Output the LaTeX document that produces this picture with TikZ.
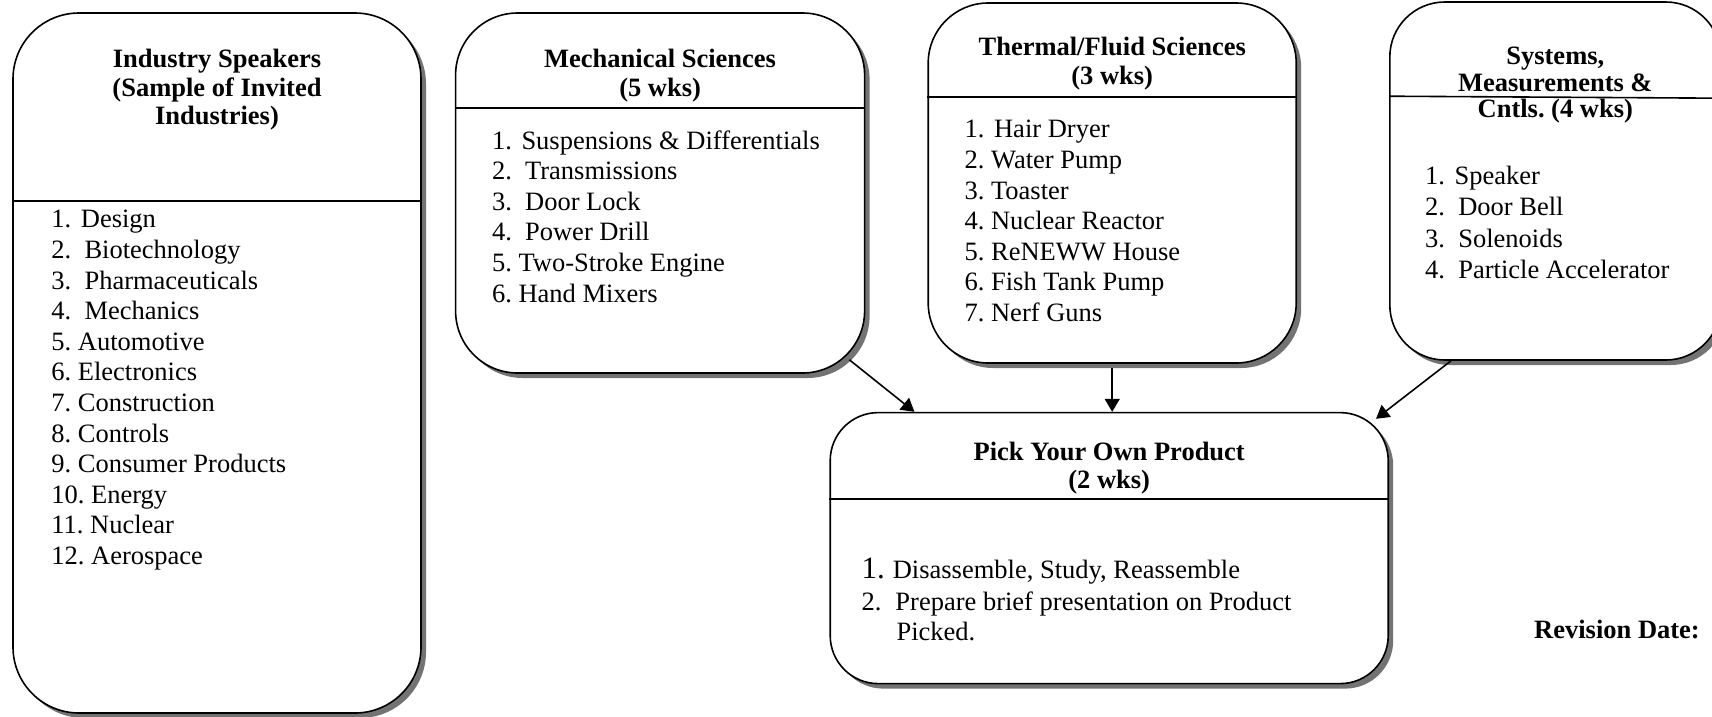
\documentclass[tikz,border=0pt]{standalone}
\usepackage{fontspec}
\setmainfont{Liberation Serif}
\usetikzlibrary{arrows.meta, positioning, shadows, calc}
\frenchspacing
\tikzset{
  panel/.style={rectangle, draw, line width=1.6pt, fill=white, inner sep=0pt,
    drop shadow={shadow xshift=5pt, shadow yshift=-5pt, fill=black!55, opacity=1}},
  head/.style={anchor=north, align=center, inner sep=0pt,
    font=\bfseries\fontsize{26.5}{28.5}\selectfont},
  items/.style={anchor=north west, align=left, inner sep=0pt,
    font=\fontsize{26.5}{30.6}\selectfont},
  divider/.style={line width=1.6pt},
  arr/.style={-{Triangle[length=13pt, width=15pt]}, line width=1.6pt},
}

\begin{document}
\begin{tikzpicture}[x=1pt, y=-1pt]
  \useasboundingbox (0,0) rectangle (1712,716);
  \clip (0,0) rectangle (1712,716);

  % Industry speakers
  \node[panel, rounded corners=66pt, minimum width=408pt, minimum height=700pt] (ind) at (217,363) {};
  \node[head] (indh) at ($(ind.north)+(0,37)$) {Industry Speakers\\(Sample of Invited\\Industries)};
  \draw[divider] ($(ind.north west)+(0,189)$) -- ($(ind.north east)+(0,189)$);
  \node[items] (indl) at ($(ind.north west)+(39,198)$) {1.\kern3pt{} Design\\2.~ Biotechnology\\3.~ Pharmaceuticals\\4.~ Mechanics\\5. Automotive\\6. Electronics\\7. Construction\\8. Controls\\9. Consumer Products\\10. Energy\\11. Nuclear\\12. Aerospace};

  % Mechanical sciences
  \node[panel, rounded corners=62pt, minimum width=409pt, minimum height=360pt,
    right=33pt of ind.north east, anchor=north west] (mech) {};
  \node[head] (mechh) at ($(mech.north)+(0,37)$) {Mechanical Sciences\\(5 wks)};
  \draw[divider] ($(mech.north west)+(0,96)$) -- ($(mech.north east)+(0,96)$);
  \node[items] (mechl) at ($(mech.north west)+(37,118)$) {1.\kern3pt{} Suspensions \& Differentials\\2.~ Transmissions\\3.~ Door Lock\\4.~ Power Drill\\5. Two-Stroke Engine\\6. Hand Mixers};

  % Thermal/fluid sciences
  \node[panel, rounded corners=60pt, minimum width=368pt, minimum height=360pt,
    right=62pt of mech.north east, anchor=north west, yshift=10pt] (therm) {};
  \node[head] (thermh) at ($(therm.north)+(0,35)$) {Thermal/Fluid Sciences\\(3 wks)};
  \draw[divider] ($(therm.north west)+(0,95)$) -- ($(therm.north east)+(0,95)$);
  \node[items] (therml) at ($(therm.north west)+(37,118)$) {1.\kern3pt{} Hair Dryer\\2. Water Pump\\3. Toaster\\4. Nuclear Reactor\\5. ReNEWW House\\6. Fish Tank Pump\\7. Nerf Guns};

  % Systems, measurements and controls
  \node[panel, rounded corners=55pt, minimum width=331pt, minimum height=358pt,
    right=92pt of therm.north east, anchor=north west, yshift=1pt] (sys) {};
  \node[head, font=\bfseries\fontsize{26.5}{26.5}\selectfont] (sysh) at ($(sys.north)+(0,46)$) {Systems,\\Measurements \&\\Cntls. (4 wks)};
  \draw[divider] ($(sys.north west)+(0,95)$) -- ($(sys.north east)+(0,97)$);
  \node[items, font=\fontsize{26.5}{31.2}\selectfont] (sysl) at ($(sys.north west)+(36,165)$) {1.\kern3pt{} Speaker\\2.~ Door Bell\\3.~ Solenoids\\4.~ Particle Accelerator};

  % Pick your own product
  \node[panel, rounded corners=48pt, minimum width=558pt, minimum height=271pt,
    below=48pt of therm.south, anchor=north, xshift=-3pt] (pick) {};
  \node[head] (pickh) at ($(pick.north)+(0,30)$) {Pick Your Own Product\\(2 wks)};
  \draw[divider] ($(pick.north west)+(0,87)$) -- ($(pick.north east)+(0,87)$);
  \node[items] (pickl) at ($(pick.north west)+(32,146)$) {{\fontsize{31}{31}\selectfont 1.}\kern8pt Disassemble, Study, Reassemble\\[1pt]2.\hspace{14pt}Prepare brief presentation on Product\\\hspace*{35pt}Picked.};

  % Revision date
  \node[anchor=base east, inner sep=0pt, font=\bfseries\fontsize{26.5}{28.5}\selectfont] (rev) at (1700,638) {Revision Date:};

  \draw[arr] ($(mech.south east)+(-16,-14)$) -- ($(pick.north west)+(85,0)$);
  \draw[arr, shorten <=4pt] (therm.south) -- (therm.south |- pick.north);
  \draw[arr] ($(sys.south west)+(62,0)$) -- ($(pick.north east)+(-13,7)$);
\end{tikzpicture}
\end{document}
